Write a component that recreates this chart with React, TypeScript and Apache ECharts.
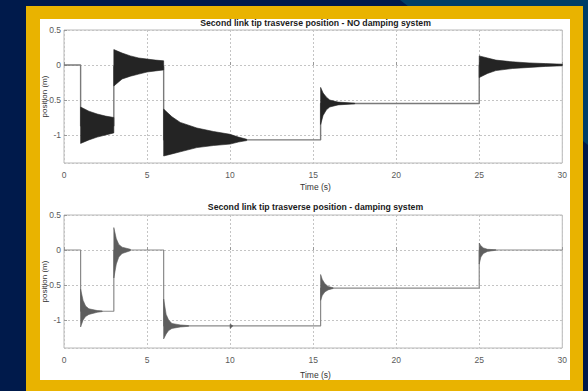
import React, { useEffect, useRef } from "react";
import * as echarts from "echarts";

// ---- data ----
const xTicks = [0, 5, 10, 15, 20, 25, 30];
const titles = [
  "Second link tip trasverse position - NO damping system",
  "Second link tip trasverse position - damping system",
];
const yName = "position (m)";
const xName = "Time (s)";

// underlying step response (t, position)
const stepNoDamp: number[][] = [
  [0, 0], [1, 0], [1, -0.87], [3, -0.87], [3, -0.02], [6, -0.02], [6, -1.07],
  [15.45, -1.07], [15.45, -0.55], [25, -0.55], [25, 0], [30, 0],
];
const stepDamp: number[][] = [
  [0, 0], [1, 0], [1, -0.875], [3, -0.875], [3, 0], [6, 0], [6, -1.085],
  [15.45, -1.085], [15.45, -0.545], [25, -0.545], [25, 0], [30, 0],
];

// oscillation envelopes: [t, lower, upper]
const envNoDamp: number[][][] = [
  [[1, -1.12, -0.6], [1.5, -1.07, -0.66], [2, -1.03, -0.7], [2.5, -1.0, -0.73], [3, -0.97, -0.75]],
  [[3, -0.3, 0.22], [3.5, -0.2, 0.17], [4, -0.16, 0.13], [4.5, -0.13, 0.1], [5, -0.1, 0.085], [5.5, -0.085, 0.07], [6, -0.07, 0.06]],
  [[6, -1.3, -0.63], [6.5, -1.27, -0.74], [7, -1.24, -0.82], [8, -1.18, -0.9], [9, -1.15, -0.95], [10, -1.13, -0.99], [10.5, -1.1, -1.03], [11, -1.08, -1.06]],
  [[15.45, -0.85, -0.32], [15.6, -0.72, -0.4], [15.8, -0.64, -0.46], [16, -0.6, -0.5], [16.5, -0.57, -0.53], [17.5, -0.555, -0.545]],
  [[25, -0.18, 0.13], [25.5, -0.12, 0.1], [26, -0.08, 0.07], [27, -0.05, 0.045], [28, -0.035, 0.03], [29, -0.02, 0.02], [30, -0.012, 0.012]],
];
const envDamp: number[][][] = [
  [[1, -1.1, -0.56], [1.15, -1.0, -0.72], [1.3, -0.95, -0.8], [1.5, -0.92, -0.84], [2, -0.89, -0.865], [2.3, -0.88, -0.87]],
  [[3, -0.4, 0.32], [3.15, -0.2, 0.16], [3.3, -0.1, 0.08], [3.5, -0.05, 0.04], [4, -0.01, 0.01]],
  [[6, -1.27, -0.7], [6.15, -1.2, -0.92], [6.3, -1.15, -1.0], [6.5, -1.12, -1.05], [7, -1.1, -1.07], [7.5, -1.09, -1.08]],
  [[10, -1.12, -1.06], [10.15, -1.09, -1.08]],
  [[15.45, -0.72, -0.35], [15.55, -0.65, -0.42], [15.7, -0.6, -0.48], [15.9, -0.57, -0.52], [16.2, -0.55, -0.54]],
  [[25, -0.2, 0.1], [25.1, -0.1, 0.06], [25.25, -0.05, 0.03], [25.5, -0.02, 0.01], [26, -0.004, 0.004]],
];

const FONT = "'Liberation Sans', Arial, sans-serif";

function bandSeries(env: number[][][], idx: number, color: string) {
  return {
    type: "custom",
    xAxisIndex: idx,
    yAxisIndex: idx,
    z: 3,
    silent: true,
    data: env.map((b) => [b[0][0], b[0][2]]),
    renderItem: (params: any, api: any) => {
      const band = env[params.dataIndex];
      const pts: number[][] = [];
      band.forEach((p) => pts.push(api.coord([p[0], p[2]])));
      for (let i = band.length - 1; i >= 0; i--) pts.push(api.coord([band[i][0], band[i][1]]));
      return {
        type: "polygon",
        shape: { points: pts },
        style: { fill: color, stroke: color, lineWidth: 0.6 },
      };
    },
  };
}

export default function App() {
  const ref = useRef<HTMLDivElement>(null);
  useEffect(() => {
    if (!ref.current) return;
    const chart = echarts.init(ref.current, undefined, { renderer: "svg" });
    const gridW = 503;
    const gridH = 133;
    const grids = [
      { left: 24, top: 11, width: gridW, height: gridH },
      { left: 24, top: 196, width: gridW, height: gridH },
    ];
    const xAxes = grids.map((_, i) => ({
      type: "value",
      gridIndex: i,
      min: xTicks[0],
      max: xTicks[xTicks.length - 1],
      interval: 5,
      axisLine: { show: false },
      axisTick: { show: true, inside: true, length: 3, lineStyle: { color: "#999" } },
      axisLabel: { fontSize: 8.5, color: "#5a5a5a", fontFamily: FONT, margin: 7 },
      splitLine: { show: true, lineStyle: { color: "#c4c4c4", type: [2, 2], width: 1 } },
    }));
    const yAxes = grids.map((_, i) => ({
      type: "value",
      gridIndex: i,
      min: -1.4,
      max: 0.5,
      splitNumber: 4,
      axisLine: { show: false },
      axisTick: { show: true, inside: true, length: 3, lineStyle: { color: "#999" } },
      axisLabel: {
        fontSize: 8.5,
        color: "#5a5a5a",
        fontFamily: FONT,
        margin: 3,
        showMinLabel: false,
        formatter: (v: number) => (Math.abs(v * 2 - Math.round(v * 2)) < 1e-6 ? String(v) : ""),
      },
      splitLine: { show: true, lineStyle: { color: "#c4c4c4", type: [2, 2], width: 1 } },
    }));
    const graphic: any[] = [];
    grids.forEach((g, i) => {
      const cx = g.left + gridW / 2;
      graphic.push({
        type: "text",
        x: cx,
        y: i === 0 ? 3.5 : 188,
        style: {
          text: titles[i],
          fontSize: 8.7,
          fontWeight: "bold",
          fontFamily: FONT,
          fill: "#1a1a1a",
          textAlign: "center",
          textVerticalAlign: "middle",
        },
      });
      graphic.push({
        type: "text",
        x: cx,
        y: i === 0 ? 168 : 356,
        style: {
          text: xName,
          fontSize: 8.5,
          fontFamily: FONT,
          fill: "#333",
          textAlign: "center",
          textVerticalAlign: "middle",
        },
      });
      graphic.push({
        type: "text",
        x: 4.5,
        y: g.top + gridH / 2,
        rotation: Math.PI / 2,
        style: {
          text: yName,
          fontSize: 8,
          fontFamily: FONT,
          fill: "#333",
          textAlign: "center",
          textVerticalAlign: "middle",
        },
      });
    });
    chart.setOption({
      animation: false,
      backgroundColor: "transparent",
      grid: grids.map((g) => ({ ...g, show: true, borderColor: "#b8b8b8", borderWidth: 1, backgroundColor: "transparent" })),
      xAxis: xAxes,
      yAxis: yAxes,
      graphic,
      series: [
        {
          type: "line",
          xAxisIndex: 0,
          yAxisIndex: 0,
          data: stepNoDamp,
          showSymbol: false,
          lineStyle: { color: "#7a7a7a", width: 1.4 },
          z: 2,
        },
        bandSeries(envNoDamp, 0, "#242424"),
        {
          type: "line",
          xAxisIndex: 1,
          yAxisIndex: 1,
          data: stepDamp,
          showSymbol: false,
          lineStyle: { color: "#8a8a8a", width: 1.2 },
          z: 2,
        },
        bandSeries(envDamp, 1, "#5e5e5e"),
      ],
    });
    return () => chart.dispose();
  }, []);

  return (
    <div style={{ position: "fixed", left: 0, top: 0, width: 588, height: 391, background: "#001a4b", overflow: "hidden" }}>
      <div
        style={{
          position: "absolute",
          left: 0,
          top: 0,
          width: 588,
          height: 391,
          background: "#003f68",
          clipPath: "polygon(400px 0, 588px 0, 588px 145px)",
        }}
      />
      <div style={{ position: "absolute", left: 26, top: 6, width: 557, height: 385, background: "#e9b300" }} />
      <div style={{ position: "absolute", left: 40, top: 19, width: 530, height: 361, background: "#ffffff", overflow: "hidden" }}>
        <div ref={ref} style={{ width: 530, height: 361 }} />
      </div>
    </div>
  );
}
